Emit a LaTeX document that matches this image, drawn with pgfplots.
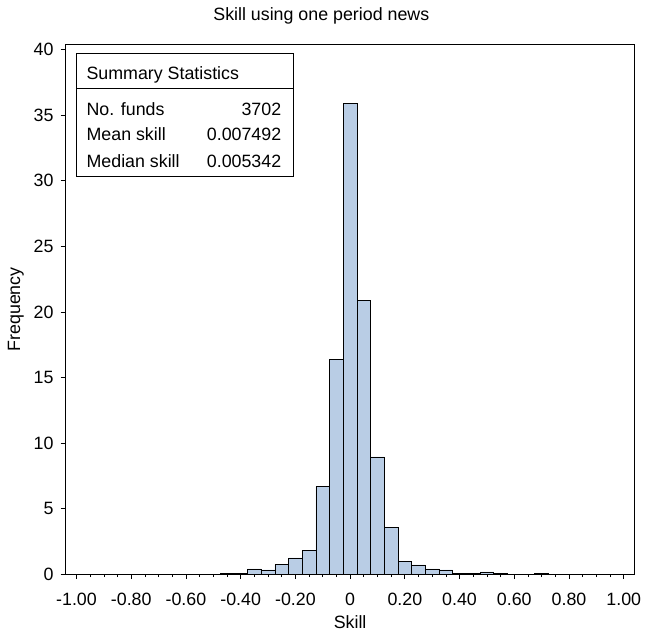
\documentclass[border=0pt]{standalone}
\usepackage{pgfplots}
\pgfplotsset{compat=1.18}
\usepackage{fontspec}
\setmainfont{Liberation Sans}
\definecolor{barfill}{RGB}{185,205,229}
\newcommand{\fs}{\fontsize{18}{21.6}\selectfont}
\begin{document}
\fs
\begin{tikzpicture}
\begin{axis}[
  scale only axis,
  width=573bp, height=533bp,
  xmin=-1.04, xmax=1.04,
  ymin=0, ymax=40.38,
  axis line style={black, line width=0.8pt},
  tick align=outside,
  tick pos=left,
  xtick={-1,-0.8,-0.6,-0.4,-0.2,0,0.2,0.4,0.6,0.8,1},
  xticklabels={-1.00,-0.80,-0.60,-0.40,-0.20,0,0.20,0.40,0.60,0.80,1.00},
  minor x tick num=3,
  ytick={0,5,10,15,20,25,30,35,40},
  major tick length=5bp,
  minor tick length=3bp,
  every tick/.style={black, line width=0.7pt},
  /pgf/number format/assume math mode=true,
  ticklabel style={font=\fs},
  xticklabel style={anchor=base, yshift=-27bp},
  yticklabel style={anchor=east, xshift=-1bp},
  xlabel={Skill},
  ylabel={Frequency},
  xlabel style={at={(axis description cs:0.5,0)}, anchor=base, yshift=-55bp, font=\fs},
  ylabel style={at={(axis description cs:0,0.5)}, anchor=center, yshift=50bp, font=\fs},
  clip=false,
]
\addplot[ybar, bar width=0.05, fill=barfill, draw=black, line width=0.7pt] coordinates {
(-0.45,0.08) (-0.40,0.08) (-0.35,0.39) (-0.30,0.32) (-0.25,0.72) (-0.20,1.23)
(-0.15,1.83) (-0.10,6.67) (-0.05,16.4) (0,35.9) (0.05,20.9) (0.10,8.94)
(0.15,3.57) (0.20,0.97) (0.25,0.70) (0.30,0.39) (0.35,0.32) (0.40,0.06)
(0.45,0.06) (0.50,0.17) (0.55,0.08) (0.70,0.08)
};
\end{axis}
\node[anchor=base, inner sep=0pt] at ([shift={(-29bp,24.3bp)}]current axis.north) {Skill using one period news};
\draw[black, line width=0.8pt, fill=white] ([shift={(11.3bp,-8.3bp)}]current axis.north west) rectangle ([shift={(229bp,-132.7bp)}]current axis.north west);
\draw[black, line width=0.8pt] ([shift={(11.3bp,-44bp)}]current axis.north west) -- ([shift={(229bp,-44bp)}]current axis.north west);
\node[anchor=base west, inner sep=0pt] at ([shift={(21bp,-35bp)}]current axis.north west) {Summary Statistics};
\node[anchor=base west, inner sep=0pt] at ([shift={(21bp,-71bp)}]current axis.north west) {No. funds};
\node[anchor=base west, inner sep=0pt] at ([shift={(21bp,-96.7bp)}]current axis.north west) {Mean skill};
\node[anchor=base west, inner sep=0pt] at ([shift={(21bp,-124bp)}]current axis.north west) {Median skill};
\node[anchor=base east, inner sep=0pt] at ([shift={(217.3bp,-71bp)}]current axis.north west) {3702};
\node[anchor=base east, inner sep=0pt] at ([shift={(217.3bp,-96.7bp)}]current axis.north west) {0.007492};
\node[anchor=base east, inner sep=0pt] at ([shift={(217.3bp,-124bp)}]current axis.north west) {0.005342};
\useasboundingbox ([shift={(-66bp,-64bp)}]current axis.south west) rectangle ([shift={(8bp,45bp)}]current axis.north east);
\end{tikzpicture}
\end{document}
